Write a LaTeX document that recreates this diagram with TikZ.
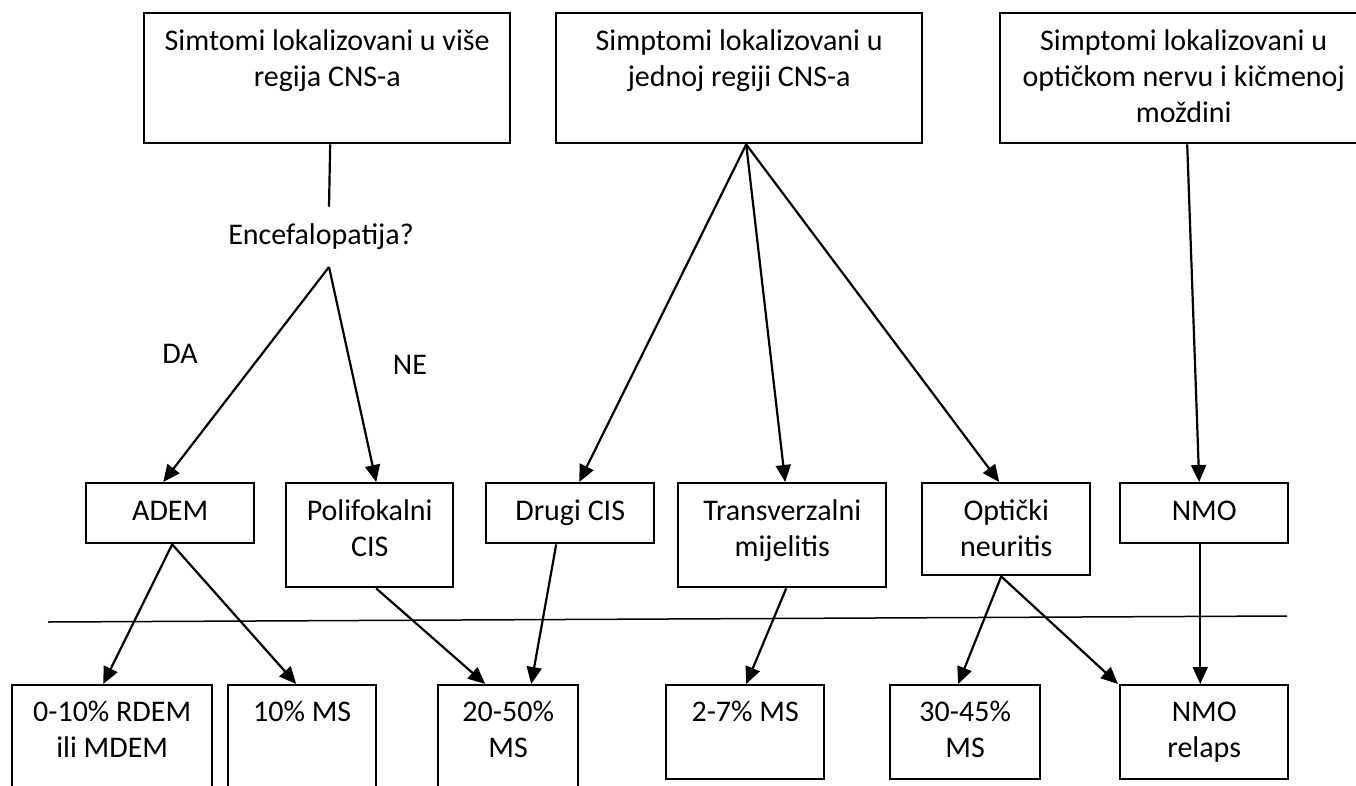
\documentclass[tikz,border=0pt]{standalone}
\usepackage{fontspec}
\setmainfont{Carlito}
\usetikzlibrary{arrows.meta}
\begin{document}
\begin{tikzpicture}[x=1pt,y=-1pt,
  boxst/.style={draw, line width=2.4pt, inner sep=0pt, anchor=north west},
  txt/.style={font=\fontsize{30}{36}\selectfont, align=center, inner sep=0pt, anchor=north},
  arr/.style={line width=2.2pt, -{Triangle[length=17pt,width=15pt]}},
  conn/.style={line width=2.2pt},
  divider/.style={line width=1.5pt}]
\clip (0,0) rectangle (1356,786);
% top boxes
\node[boxst, minimum width=366pt, minimum height=130pt] (b1) at (143,12) {};
\node[boxst, minimum width=366pt, minimum height=130pt] (b2) at (555,12) {};
\node[boxst, minimum width=367pt, minimum height=130pt] (b3) at (999,12) {};
\node[txt] (b1t) at ([yshift=-13pt]b1.north) {\strut Simtomi lokalizovani u više\\regija CNS-a};
\node[txt] (b2t) at ([yshift=-13pt]b2.north) {\strut Simptomi lokalizovani u\\jednoj regiji CNS-a};
\node[txt] (b3t) at ([yshift=-13pt]b3.north) {\strut Simptomi lokalizovani u\\optičkom nervu i kičmenoj\\moždini};
% question and labels
\node[txt, anchor=base, inner ysep=12pt] (enc) at (321,244) {\strut Encefalopatija?};
\node[txt, anchor=base] (da) at (180,363) {DA};
\node[txt, anchor=base] (ne) at (410,374) {NE};
% middle row
\node[boxst, minimum width=168pt, minimum height=60pt] (adem) at (85,482) {};
\node[boxst, minimum width=167pt, minimum height=104pt] (poli) at (285,482) {};
\node[boxst, minimum width=168pt, minimum height=60pt] (drugi) at (485,482) {};
\node[boxst, minimum width=208pt, minimum height=104pt] (trans) at (677,482) {};
\node[boxst, minimum width=168pt, minimum height=92pt] (opt) at (921,482) {};
\node[boxst, minimum width=168pt, minimum height=60pt] (nmo) at (1119,482) {};
\node[txt] (ademt) at ([yshift=-13pt]adem.north) {\strut ADEM};
\node[txt] (polit) at ([yshift=-13pt]poli.north) {\strut Polifokalni\\CIS};
\node[txt] (drugit) at ([yshift=-13pt]drugi.north) {\strut Drugi CIS};
\node[txt] (transt) at ([yshift=-13pt]trans.north) {\strut Transverzalni\\mijelitis};
\node[txt] (optt) at ([yshift=-13pt]opt.north) {\strut Optički\\neuritis};
\node[txt] (nmot) at ([yshift=-13pt]nmo.north) {\strut NMO};
% bottom row
\node[boxst, minimum width=200pt, minimum height=120pt] (r1) at (11,684) {};
\node[boxst, minimum width=148pt, minimum height=120pt] (r2) at (227,684) {};
\node[boxst, minimum width=140pt, minimum height=120pt] (r3) at (437,684) {};
\node[boxst, minimum width=158pt, minimum height=94pt] (r4) at (665,684) {};
\node[boxst, minimum width=150pt, minimum height=94pt] (r5) at (889,684) {};
\node[boxst, minimum width=168pt, minimum height=94pt] (r6) at (1119,684) {};
\node[txt] (r1t) at ([yshift=-12pt]r1.north) {\strut 0-10\% RDEM\\ili MDEM};
\node[txt] (r2t) at ([yshift=-12pt]r2.north) {\strut 10\% MS};
\node[txt] (r3t) at ([yshift=-12pt]r3.north) {\strut 20-50\%\\MS};
\node[txt] (r4t) at ([yshift=-12pt]r4.north) {\strut 2-7\% MS};
\node[txt] (r5t) at ([yshift=-12pt]r5.north) {\strut 30-45\%\\MS};
\node[txt] (r6t) at ([yshift=-12pt]r6.north) {\strut NMO\\relaps};
% divider
\coordinate (d1) at (48,622);
\coordinate (d2) at (1287,616);
\draw[divider] (d1) -- (d2);
% connectors
\draw[conn] ([xshift=3pt]b1.south) -- ([xshift=8pt]enc.north);
\draw[arr] ([xshift=8pt]enc.south) -- ([xshift=-7pt]adem.north);
\draw[arr] ([xshift=8pt]enc.south) -- ([xshift=6.5pt]poli.north);
\draw[arr] ([xshift=7pt]b2.south) -- ([xshift=9pt]drugi.north);
\draw[arr] ([xshift=7pt]b2.south) -- ([xshift=3pt]trans.north);
\draw[arr] ([xshift=7pt]b2.south) -- ([xshift=-7pt]opt.north);
\draw[arr] ([xshift=3.5pt]b3.south) -- ([xshift=-5pt]nmo.north);
\draw[arr] ([xshift=2pt]adem.south) -- ([xshift=-9pt]r1.north);
\draw[arr] ([xshift=2pt]adem.south) -- ([xshift=-6pt]r2.north);
\draw[arr] ([xshift=6.5pt]poli.south) -- ([xshift=-23pt]r3.north);
\draw[arr] ([xshift=-14pt]drugi.south) -- ([xshift=23pt]r3.north);
\draw[arr] ([xshift=4pt]trans.south) -- ([xshift=1pt]r4.north);
\draw[arr] ([xshift=-5pt]opt.south) -- ([xshift=-7pt]r5.north);
\draw[arr] ([xshift=-5pt]opt.south) -- ([xshift=-1pt]r6.north west);
\draw[arr] ([xshift=-4pt]nmo.south) -- ([xshift=-4pt]r6.north);
\end{tikzpicture}
\end{document}
